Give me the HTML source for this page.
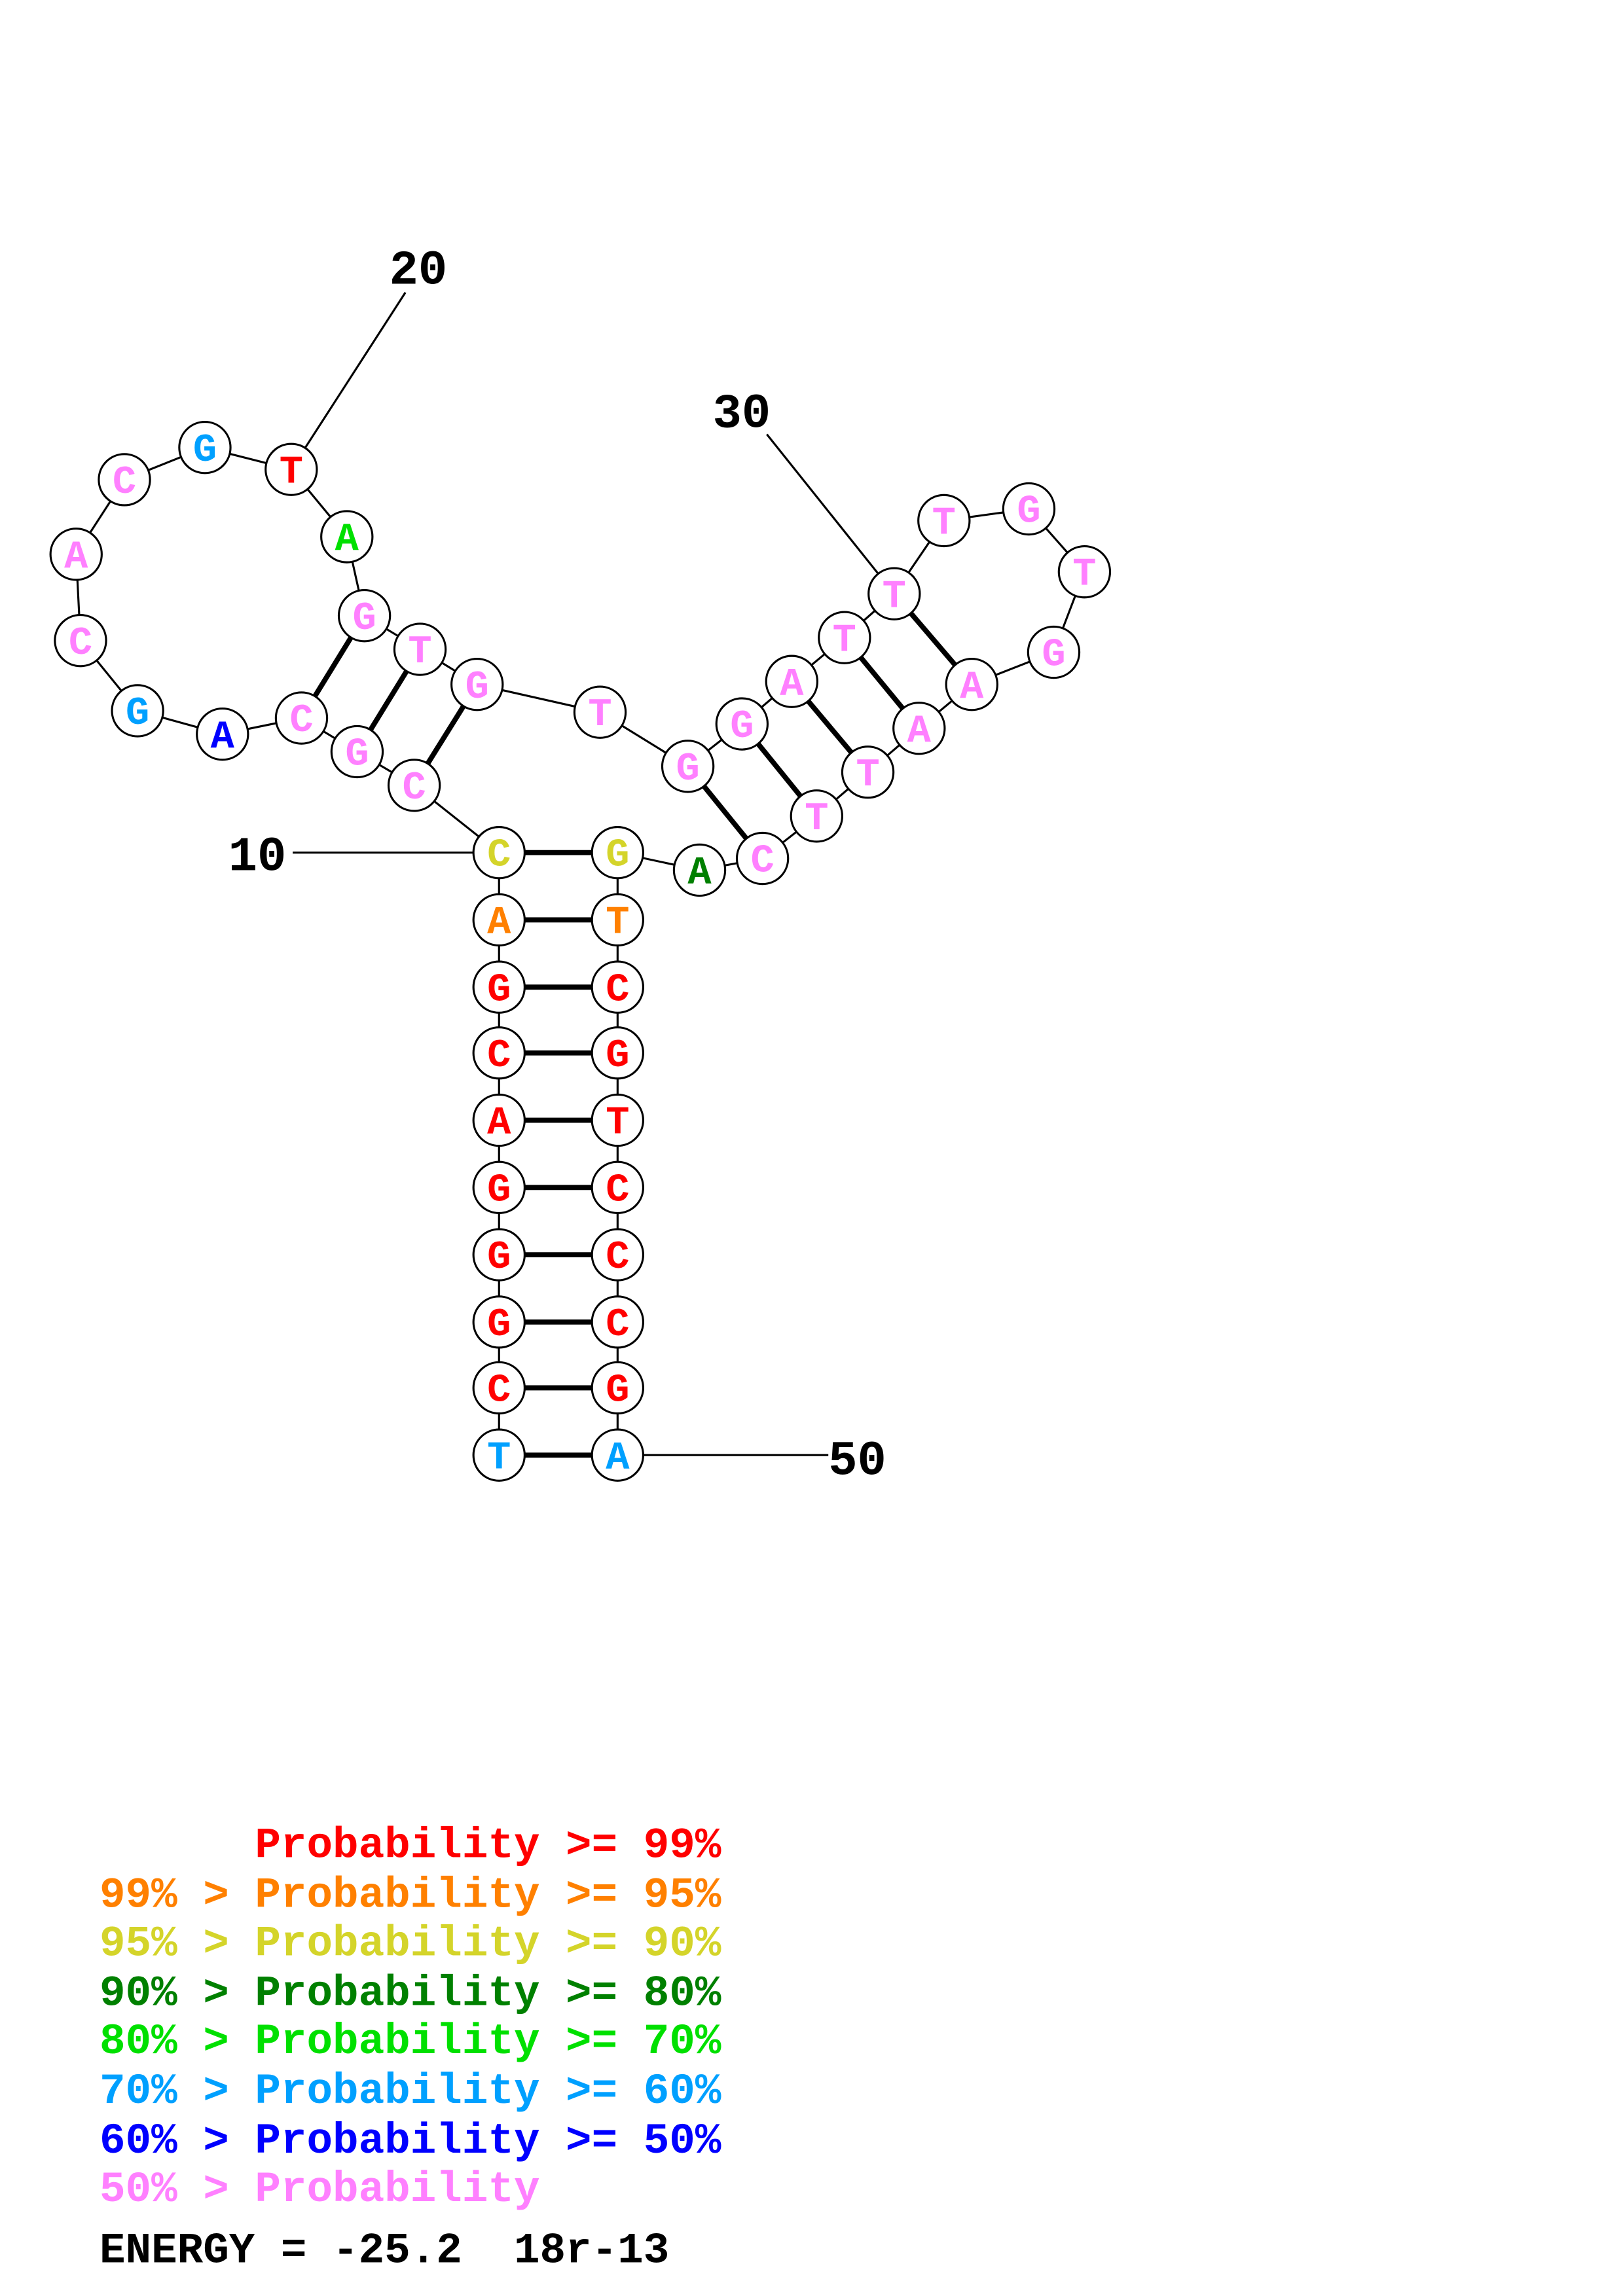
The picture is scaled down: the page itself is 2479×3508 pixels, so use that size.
<!DOCTYPE html>
<html><head><meta charset="utf-8"><style>html,body{margin:0;padding:0;background:#fff}svg{display:block}.pre{white-space:pre}</style></head>
<body>
<svg xmlns="http://www.w3.org/2000/svg" width="2479" height="3508" viewBox="0 0 1109 1570" preserveAspectRatio="none">
<rect width="1109" height="1570" fill="#fff"/>
<g stroke="#000" stroke-width="1.4" fill="none">
<polyline points="341,995 341,949 341,904 341,858 341,812 341,766 341,720 341,675 341,629 341,583 283,537 244,514 206,491 152,502 94,486 55,438 52,379 85,328 140,306 199,321 237,367 249,421 287,444 326,468 410,487 470,524 507,495 541,466 577,436 611,406 645,356 703,348 741,391 720,446 664,468 628,498 593,528 558,558 521,587 478,595 422,583 422,629 422,675 422,720 422,766 422,812 422,858 422,904 422,949 422,995"/>
<line x1="199" y1="321" x2="277" y2="200"/>
<line x1="611" y1="406" x2="524" y2="297"/>
<line x1="200" y1="583" x2="341" y2="583"/>
<line x1="422" y1="995" x2="566" y2="995"/>
</g>
<g stroke="#000" stroke-width="3.5">
<line x1="341" y1="583" x2="422" y2="583"/><line x1="341" y1="629" x2="422" y2="629"/>
<line x1="341" y1="675" x2="422" y2="675"/><line x1="341" y1="720" x2="422" y2="720"/>
<line x1="341" y1="766" x2="422" y2="766"/><line x1="341" y1="812" x2="422" y2="812"/>
<line x1="341" y1="858" x2="422" y2="858"/><line x1="341" y1="904" x2="422" y2="904"/>
<line x1="341" y1="949" x2="422" y2="949"/><line x1="341" y1="995" x2="422" y2="995"/>
<line x1="283" y1="537" x2="326" y2="468"/><line x1="244" y1="514" x2="287" y2="444"/>
<line x1="206" y1="491" x2="249" y2="421"/>
<line x1="470" y1="524" x2="521" y2="587"/><line x1="507" y1="495" x2="558" y2="558"/>
<line x1="541" y1="466" x2="593" y2="528"/><line x1="577" y1="436" x2="628" y2="498"/>
<line x1="611" y1="406" x2="664" y2="468"/>
</g>
<g stroke="#000" stroke-width="1.4" fill="#fff">
<circle cx="341" cy="995" r="17.5"/><circle cx="341" cy="949" r="17.5"/><circle cx="341" cy="904" r="17.5"/><circle cx="341" cy="858" r="17.5"/><circle cx="341" cy="812" r="17.5"/><circle cx="341" cy="766" r="17.5"/><circle cx="341" cy="720" r="17.5"/><circle cx="341" cy="675" r="17.5"/><circle cx="341" cy="629" r="17.5"/><circle cx="341" cy="583" r="17.5"/>
<circle cx="283" cy="537" r="17.5"/><circle cx="244" cy="514" r="17.5"/><circle cx="206" cy="491" r="17.5"/><circle cx="152" cy="502" r="17.5"/><circle cx="94" cy="486" r="17.5"/><circle cx="55" cy="438" r="17.5"/><circle cx="52" cy="379" r="17.5"/><circle cx="85" cy="328" r="17.5"/><circle cx="140" cy="306" r="17.5"/><circle cx="199" cy="321" r="17.5"/>
<circle cx="237" cy="367" r="17.5"/><circle cx="249" cy="421" r="17.5"/><circle cx="287" cy="444" r="17.5"/><circle cx="326" cy="468" r="17.5"/><circle cx="410" cy="487" r="17.5"/><circle cx="470" cy="524" r="17.5"/><circle cx="507" cy="495" r="17.5"/><circle cx="541" cy="466" r="17.5"/><circle cx="577" cy="436" r="17.5"/><circle cx="611" cy="406" r="17.5"/>
<circle cx="645" cy="356" r="17.5"/><circle cx="703" cy="348" r="17.5"/><circle cx="741" cy="391" r="17.5"/><circle cx="720" cy="446" r="17.5"/><circle cx="664" cy="468" r="17.5"/><circle cx="628" cy="498" r="17.5"/><circle cx="593" cy="528" r="17.5"/><circle cx="558" cy="558" r="17.5"/><circle cx="521" cy="587" r="17.5"/><circle cx="478" cy="595" r="17.5"/>
<circle cx="422" cy="583" r="17.5"/><circle cx="422" cy="629" r="17.5"/><circle cx="422" cy="675" r="17.5"/><circle cx="422" cy="720" r="17.5"/><circle cx="422" cy="766" r="17.5"/><circle cx="422" cy="812" r="17.5"/><circle cx="422" cy="858" r="17.5"/><circle cx="422" cy="904" r="17.5"/><circle cx="422" cy="949" r="17.5"/><circle cx="422" cy="995" r="17.5"/>
</g>
<g font-family="'Liberation Mono', monospace" font-weight="bold" font-size="27" text-anchor="middle">
<text x="341" y="1004" fill="#00a0ff">T</text><text x="341" y="958" fill="#f00">C</text><text x="341" y="913" fill="#f00">G</text><text x="341" y="867" fill="#f00">G</text><text x="341" y="821" fill="#f00">G</text><text x="341" y="775" fill="#f00">A</text><text x="341" y="729" fill="#f00">C</text><text x="341" y="684" fill="#f00">G</text><text x="341" y="638" fill="#ff8000">A</text><text x="341" y="592" fill="#d4d42a">C</text>
<text x="283" y="546" fill="#ff80ff">C</text><text x="244" y="523" fill="#ff80ff">G</text><text x="206" y="500" fill="#ff80ff">C</text><text x="152" y="511" fill="#0000ff">A</text><text x="94" y="495" fill="#00a0ff">G</text><text x="55" y="447" fill="#ff80ff">C</text><text x="52" y="388" fill="#ff80ff">A</text><text x="85" y="337" fill="#ff80ff">C</text><text x="140" y="315" fill="#00a0ff">G</text><text x="199" y="330" fill="#f00">T</text>
<text x="237" y="376" fill="#00e000">A</text><text x="249" y="430" fill="#ff80ff">G</text><text x="287" y="453" fill="#ff80ff">T</text><text x="326" y="477" fill="#ff80ff">G</text><text x="410" y="496" fill="#ff80ff">T</text><text x="470" y="533" fill="#ff80ff">G</text><text x="507" y="504" fill="#ff80ff">G</text><text x="541" y="475" fill="#ff80ff">A</text><text x="577" y="445" fill="#ff80ff">T</text><text x="611" y="415" fill="#ff80ff">T</text>
<text x="645" y="365" fill="#ff80ff">T</text><text x="703" y="357" fill="#ff80ff">G</text><text x="741" y="400" fill="#ff80ff">T</text><text x="720" y="455" fill="#ff80ff">G</text><text x="664" y="477" fill="#ff80ff">A</text><text x="628" y="507" fill="#ff80ff">A</text><text x="593" y="537" fill="#ff80ff">T</text><text x="558" y="567" fill="#ff80ff">T</text><text x="521" y="596" fill="#ff80ff">C</text><text x="478" y="604" fill="#008000">A</text>
<text x="422" y="592" fill="#d4d42a">G</text><text x="422" y="638" fill="#ff8000">T</text><text x="422" y="684" fill="#f00">C</text><text x="422" y="729" fill="#f00">G</text><text x="422" y="775" fill="#f00">T</text><text x="422" y="821" fill="#f00">C</text><text x="422" y="867" fill="#f00">C</text><text x="422" y="913" fill="#f00">C</text><text x="422" y="958" fill="#f00">G</text><text x="422" y="1004" fill="#00a0ff">A</text>
</g>
<g font-family="'Liberation Mono', monospace" font-weight="bold" font-size="33" fill="#000">
<text x="266" y="194">20</text><text x="487" y="292">30</text><text x="156" y="595">10</text><text x="566" y="1008">50</text>
</g>
<g font-family="'Liberation Mono', monospace" font-weight="bold" font-size="29.5" class="pre" transform="translate(0,4)">
<text x="68" y="1266" fill="#f00" class="pre">      Probability &gt;= 99%</text>
<text x="68" y="1300" fill="#ff8000">99% &gt; Probability &gt;= 95%</text>
<text x="68" y="1333" fill="#d4d42a">95% &gt; Probability &gt;= 90%</text>
<text x="68" y="1367" fill="#008000">90% &gt; Probability &gt;= 80%</text>
<text x="68" y="1400" fill="#00e000">80% &gt; Probability &gt;= 70%</text>
<text x="68" y="1434" fill="#00a0ff">70% &gt; Probability &gt;= 60%</text>
<text x="68" y="1468" fill="#0000ff">60% &gt; Probability &gt;= 50%</text>
<text x="68" y="1501" fill="#ff80ff">50% &gt; Probability</text>
<text x="68" y="1543" fill="#000" class="pre">ENERGY = -25.2  18r-13</text>
</g>
</svg>
</body></html>
